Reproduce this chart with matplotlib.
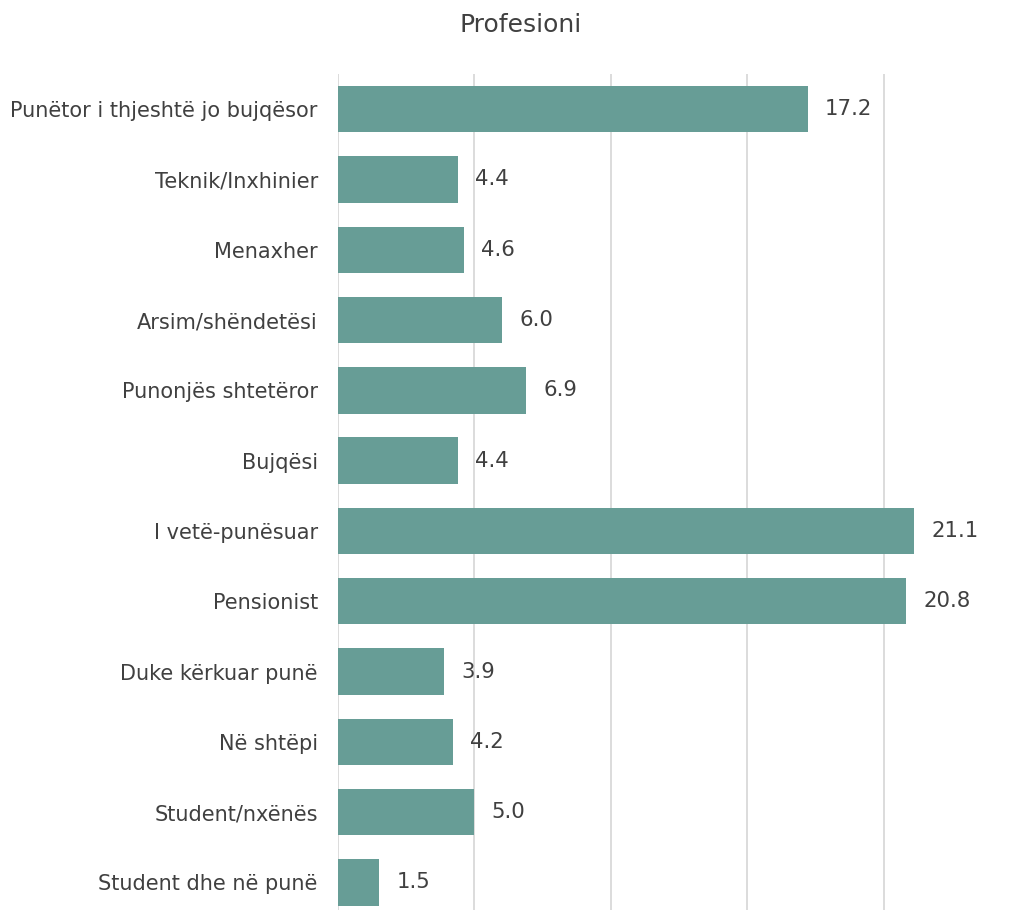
import matplotlib
matplotlib.use("Agg")
import matplotlib.pyplot as plt

categories = [
    "Punëtor i thjeshtë jo bujqësor",
    "Teknik/Inxhinier",
    "Menaxher",
    "Arsim/shëndetësi",
    "Punonjës shtetëror",
    "Bujqësi",
    "I vetë-punësuar",
    "Pensionist",
    "Duke kërkuar punë",
    "Në shtëpi",
    "Student/nxënës",
    "Student dhe në punë",
]
values = [17.2, 4.4, 4.6, 6.0, 6.9, 4.4, 21.1, 20.8, 3.9, 4.2, 5.0, 1.5]
title = "Profesioni"

W, H = 1011, 910
fig = plt.figure(figsize=(W / 100, H / 100), dpi=100)
plt.rcParams['font.family'] = ['DejaVu Sans']

x0, x1 = 338, 1011
ytop, ybot = 74, 910
ax = fig.add_axes([x0 / W, 1 - ybot / H, (x1 - x0) / W, (ybot - ytop) / H])

bar_color = "#679D96"
text_color = "#404040"
pos = list(range(len(categories)))
ax.barh(pos, values, height=0.66, color=bar_color, zorder=2)

step = 70.3
ax.set_ylim(-0.5 + (ybot - ytop) / step, -0.5)
xmax = 21.1 * (x1 - x0) / (914 - x0)
ax.set_xlim(0, xmax)

ax.set_xticks([0, 5, 10, 15, 20])
ax.xaxis.grid(True, color="#D9D9D9", linewidth=1.3, zorder=0)
ax.tick_params(axis="x", length=0, labelbottom=False)
ax.tick_params(axis="y", length=0, pad=14.5, labelsize=15, labelcolor=text_color)
ax.set_yticks(pos)
ax.set_yticklabels(categories)
for s in ax.spines.values():
    s.set_visible(False)

for p, v in zip(pos, values):
    ax.annotate(f"{v:.1f}", xy=(v, p), xytext=(12.5, 0), textcoords="offset points",
                va="center", ha="left", fontsize=15.3, color=text_color)

fig.text(521 / W, 1 - 25 / H, title, ha="center", va="center", fontsize=18, color=text_color)

fig.savefig("out.png", dpi=100, facecolor="white")
